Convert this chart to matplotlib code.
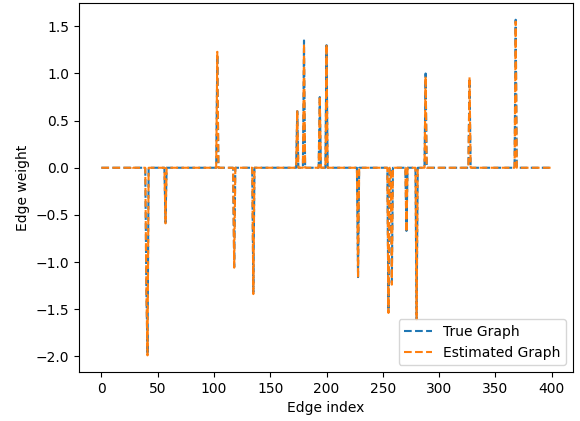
import numpy as np
import matplotlib.pyplot as plt

n_edges = 400

# nonzero edges of the true graph: index -> weight
true_idx = [40, 41, 57, 103, 118, 135, 174, 180, 194, 200, 228,
            255, 258, 271, 280, 288, 327, 368]
true_val = [-1.30, -1.98, -0.58, 1.20, -1.05, -1.32, 0.60, 1.35, 0.75, 1.30, -1.16,
            -1.53, -1.22, -0.67, -1.60, 1.00, 0.95, 1.57]

# nonzero edges of the estimated graph
est_idx = [27, 40, 41, 57, 103, 118, 135, 174, 180, 194, 200, 228,
           255, 258, 271, 280, 288, 327, 368]
est_val = [0.02, -1.32, -1.99, -0.59, 1.23, -1.06, -1.34, 0.61, 1.32, 0.76, 1.31, -1.17,
           -1.54, -1.24, -0.68, -1.61, 0.97, 0.96, 1.55]

w_true = np.zeros(n_edges)
w_true[true_idx] = true_val
w_est = np.zeros(n_edges)
w_est[est_idx] = est_val

fig, ax = plt.subplots(figsize=(5.8, 4.21), dpi=100)
fig.subplots_adjust(left=0.136, right=0.988, top=0.993, bottom=0.116)
ax.plot(w_true, '--', label='True Graph')
ax.plot(w_est, '--', label='Estimated Graph')
ax.set_xlabel('Edge index')
ax.set_ylabel('Edge weight')
ax.legend(loc='lower right')
fig.savefig('out.png')
